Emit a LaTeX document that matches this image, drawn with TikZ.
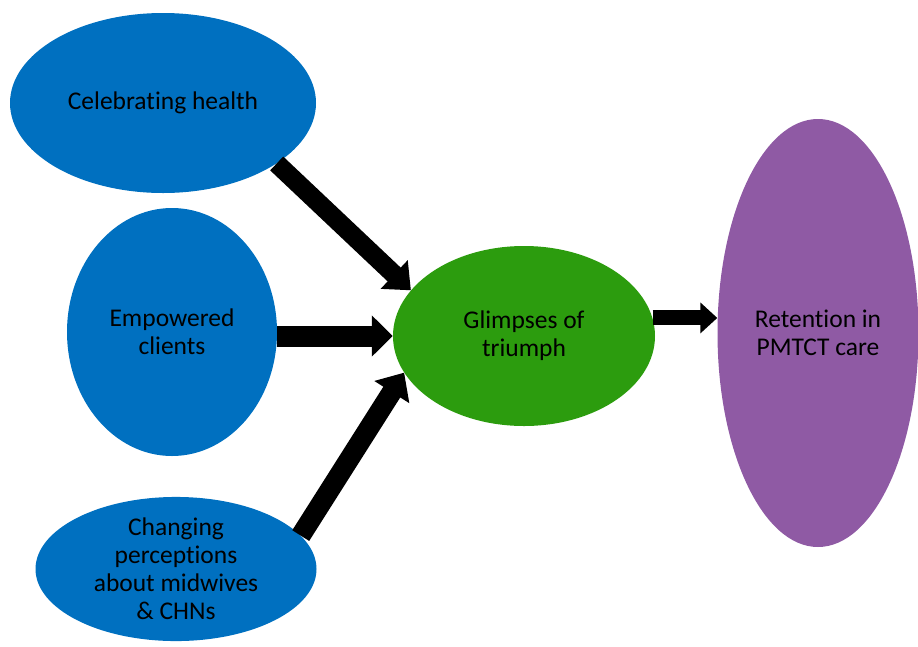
\documentclass[tikz,border=0pt]{standalone}
\usepackage{fontspec}
\setmainfont[Ligatures=NoCommon]{Carlito}
\usetikzlibrary{arrows.meta,shapes.geometric}
\definecolor{ovalblue}{RGB}{0,112,192}
\definecolor{ovalgreen}{RGB}{44,156,14}
\definecolor{ovalpurple}{RGB}{143,90,164}
\begin{document}
\begin{tikzpicture}[x=1pt,y=-1pt]
    \tikzstyle{Oval}=[ellipse,inner sep=0pt,align=center,text=black,
        font=\fontsize{25.5}{28}\selectfont]
    \tikzstyle{Block}=[line width=19pt,-{Triangle[length=23pt,width=38pt]}]
    \useasboundingbox (0,0) rectangle (918,646);
    \node[Oval,fill=ovalblue,minimum width=306pt,minimum height=180pt]
        (celeb) at (163,103) {Celebrating health};
    \node[Oval,fill=ovalblue,minimum width=210pt,minimum height=248pt]
        (empow) at (172,332) {Empowered\\clients};
    \node[Oval,fill=ovalblue,minimum width=281pt,minimum height=144pt]
        (percep) at (176,569) {Changing\\perceptions\\about midwives\\\& CHNs};
    \node[Oval,fill=ovalgreen,minimum width=262pt,minimum height=180pt]
        (glimpse) at (524,336) {Glimpses of\\triumph};
    \node[Oval,fill=ovalpurple,minimum width=201pt,minimum height=428pt]
        (retain) at (818,333) {Retention in\\PMTCT care};
    \draw[Block] (celeb.-28) -- (glimpse.158);
    \draw[Block,line width=21pt,-{Triangle[length=21pt,width=40pt]}]
        (empow.east |- glimpse) -- (glimpse.west);
    \draw[Block,line width=20pt,-{Triangle[length=23pt,width=40pt]}]
        (percep.15) -- (glimpse.197);
    \draw[Block,line width=15pt,-{Triangle[length=17pt,width=30pt]}]
        (glimpse.8) -- (glimpse.8 -| retain.west);
\end{tikzpicture}
\end{document}
